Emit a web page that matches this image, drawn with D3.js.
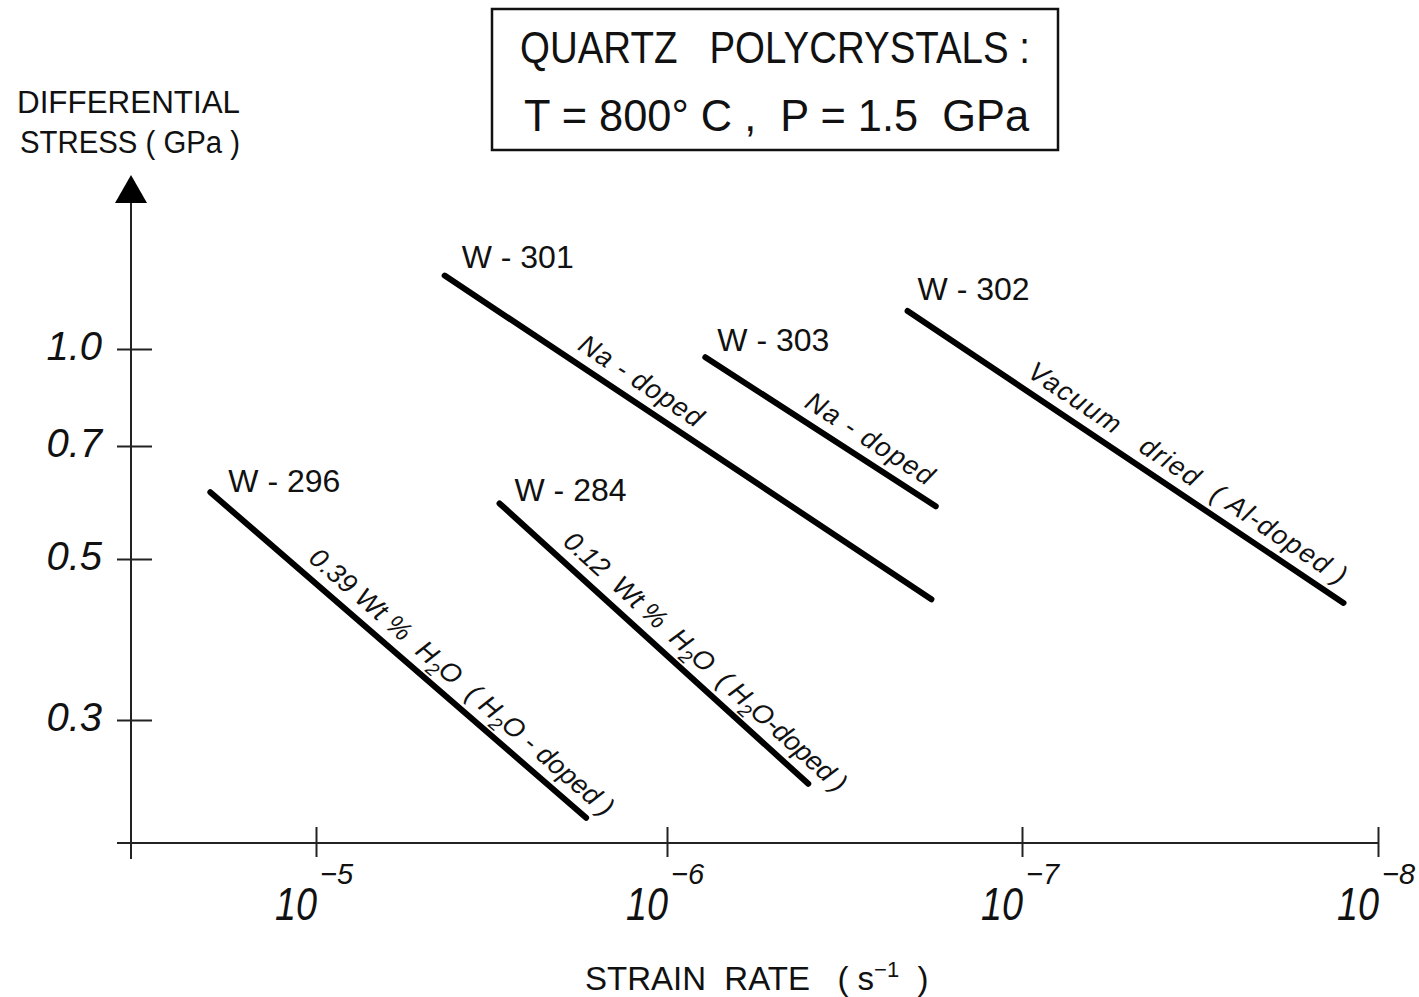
<!DOCTYPE html>
<html>
<head>
<meta charset="utf-8">
<script src="https://cdn.jsdelivr.net/npm/d3@7"></script>
<style>
  body { margin: 0; background: #fff; }
  svg { display: block; font-family: "Liberation Sans", Arial, sans-serif; }
  svg text { white-space: pre; }
</style>
</head>
<body>
<svg id="chart" width="1419" height="997" xml:space="preserve"></svg>
<script>
// samples and their fitted stress / strain-rate lines
const samples = ["W - 296", "W - 284", "W - 301", "W - 303", "W - 302"];
const rateStart = [2.0e-5, 3.0e-6, 4.3e-6, 7.8e-7, 2.1e-7];
const rateEnd = [1.7e-6, 4.0e-7, 1.8e-7, 1.75e-7, 1.25e-8];
const stressStart = [0.61, 0.59, 1.31, 0.97, 1.15];
const stressEnd = [0.22, 0.245, 0.44, 0.585, 0.435];
const notes = [
  "0.39 Wt %  H_2O  ( H_2O - doped )",
  "0.12  Wt %  H_2O  ( H_2O-doped )",
  "Na - doped",
  "Na - doped",
  "Vacuum   dried  ( Al-doped )"
];

const stressTicks = [1.0, 0.7, 0.5, 0.3];
const stressTickLabels = ["1.0", "0.7", "0.5", "0.3"];
const rateTicks = [1e-5, 1e-6, 1e-7, 1e-8];
const rateExponents = ["\u22125", "\u22126", "\u22127", "\u22128"];

// layout only
const labelNudge = [[18, 0], [15, -2], [17, -8], [12, -6], [10, -11]];
const noteAt = [0.237, 0.175, 0.257, 0.397, 0.256];
const noteWidth = [393, 372, 143, 147, 377];
const axisX = 131, axisY = 843;

const svg = d3.select("#chart");
const ink = "#111";

// the hand-drawn axes are not evenly spaced, so the scales are piecewise
const x = d3.scaleLog().domain(rateTicks).range([316, 667, 1022, 1378]);
const y = d3.scaleLog().domain(stressTicks).range([349, 446, 559, 720]);

// title box
svg.append("rect")
  .attr("x", 492).attr("y", 9).attr("width", 566).attr("height", 141)
  .attr("fill", "none").attr("stroke", ink).attr("stroke-width", 2.5);

svg.append("text")
  .attr("x", 520).attr("y", 63)
  .attr("font-size", 44).attr("fill", ink)
  .attr("textLength", 510).attr("lengthAdjust", "spacingAndGlyphs")
  .text("QUARTZ   POLYCRYSTALS :");

svg.append("text")
  .attr("x", 524).attr("y", 131)
  .attr("font-size", 44).attr("fill", ink)
  .attr("textLength", 505).attr("lengthAdjust", "spacingAndGlyphs")
  .text("T = 800\u00b0 C ,  P = 1.5  GPa");

// y label
svg.append("text").attr("x", 17).attr("y", 113)
  .attr("font-size", 31).attr("fill", ink)
  .attr("textLength", 223).attr("lengthAdjust", "spacingAndGlyphs")
  .text("DIFFERENTIAL");
svg.append("text").attr("x", 20).attr("y", 153)
  .attr("font-size", 31).attr("fill", ink)
  .attr("textLength", 220).attr("lengthAdjust", "spacingAndGlyphs")
  .text("STRESS ( GPa )");

// axis lines and arrow
svg.append("line")
  .attr("x1", axisX).attr("x2", axisX).attr("y1", 200).attr("y2", 859)
  .attr("stroke", "#222").attr("stroke-width", 2);
svg.append("line")
  .attr("x1", 117).attr("x2", x(1e-8)).attr("y1", axisY).attr("y2", axisY)
  .attr("stroke", "#222").attr("stroke-width", 2);
svg.append("path")
  .attr("d", `M${axisX},175 L${axisX - 16},203 L${axisX + 16},203 Z`)
  .attr("fill", "#000");

// y axis ticks
const yAxis = svg.append("g")
  .attr("transform", `translate(${axisX},0)`)
  .call(d3.axisLeft(y).tickValues(stressTicks).tickSize(14).tickFormat(() => ""));
yAxis.select(".domain").remove();
yAxis.selectAll(".tick line").attr("x1", 21).attr("stroke", "#222").attr("stroke-width", 2);

stressTicks.forEach((v, i) => {
  svg.append("text")
    .attr("x", 102).attr("y", y(v) + 11)
    .attr("text-anchor", "end")
    .attr("font-size", 40).attr("font-style", "italic").attr("fill", ink)
    .text(stressTickLabels[i]);
});

// x axis ticks
const xAxis = svg.append("g")
  .attr("transform", `translate(0,${axisY})`)
  .call(d3.axisBottom(x).tickValues(rateTicks).tickSize(14).tickFormat(() => ""));
xAxis.select(".domain").remove();
xAxis.selectAll(".tick line").attr("y1", -16).attr("stroke", "#222").attr("stroke-width", 2);

rateTicks.forEach((v, i) => {
  const px = x(v);
  svg.append("text")
    .attr("x", px + 1).attr("y", 920)
    .attr("text-anchor", "end")
    .attr("font-size", 46).attr("font-style", "italic").attr("fill", ink)
    .attr("textLength", 42).attr("lengthAdjust", "spacingAndGlyphs")
    .text("10");
  svg.append("text")
    .attr("x", px + 4).attr("y", 884)
    .attr("font-size", 29).attr("font-style", "italic").attr("fill", ink)
    .text(rateExponents[i]);
});

// x label
const xTitle = svg.append("text")
  .attr("x", 585).attr("y", 990)
  .attr("font-size", 33).attr("fill", ink);
xTitle.append("tspan").text("STRAIN  RATE   ( s");
xTitle.append("tspan").attr("font-size", 22).attr("dy", -13).text("\u22121");
xTitle.append("tspan").attr("dy", 13).text("  )");

// data lines
const idx = d3.range(samples.length);
const ends = idx.map(i => ({
  x0: x(rateStart[i]), y0: y(stressStart[i]),
  x1: x(rateEnd[i]), y1: y(stressEnd[i])
}));

svg.selectAll("line.series")
  .data(ends)
  .join("line")
  .attr("class", "series")
  .attr("x1", d => d.x0).attr("y1", d => d.y0)
  .attr("x2", d => d.x1).attr("y2", d => d.y1)
  .attr("stroke", "#000").attr("stroke-width", 6).attr("stroke-linecap", "round");

// sample labels
svg.selectAll("text.sample")
  .data(ends)
  .join("text")
  .attr("class", "sample")
  .attr("x", (d, i) => d.x0 + labelNudge[i][0])
  .attr("y", (d, i) => d.y0 + labelNudge[i][1])
  .attr("font-size", 32).attr("fill", ink)
  .text((d, i) => samples[i]);

// notes written along each line
ends.forEach((d, i) => {
  const t = noteAt[i];
  const px = d.x0 + (d.x1 - d.x0) * t;
  const py = d.y0 + (d.y1 - d.y0) * t;
  const angle = Math.atan2(d.y1 - d.y0, d.x1 - d.x0) * 180 / Math.PI;
  const txt = svg.append("text")
    .attr("transform", `translate(${px},${py}) rotate(${angle})`)
    .attr("y", -12)
    .attr("font-size", 27).attr("font-style", "italic").attr("fill", ink)
    .attr("textLength", noteWidth[i]).attr("lengthAdjust", "spacing");
  const parts = notes[i].split(/_(\d)/);
  parts.forEach((p, k) => {
    if (k % 2 === 1) {
      txt.append("tspan").attr("dy", 7).attr("font-size", 19).text(p);
    } else if (k > 0) {
      txt.append("tspan").attr("dy", -7).text(p);
    } else {
      txt.append("tspan").text(p);
    }
  });
});
</script>
</body>
</html>
